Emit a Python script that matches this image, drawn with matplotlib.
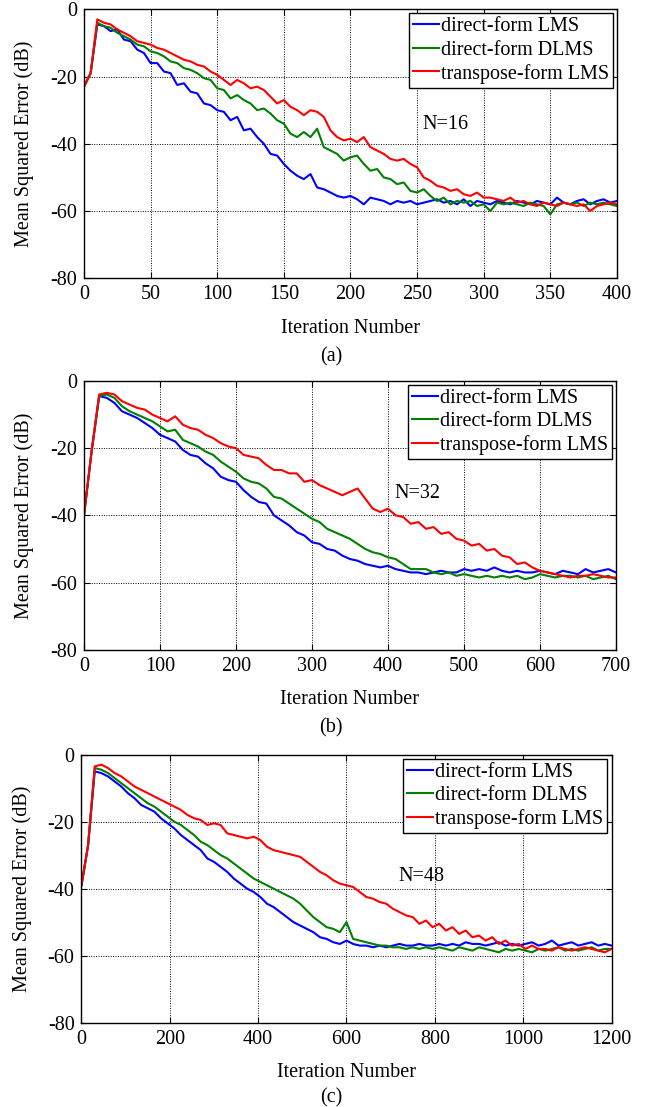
import numpy as np
import matplotlib
matplotlib.use('Agg')
import matplotlib.pyplot as plt

plt.rcParams['font.family'] = ['Liberation Serif', 'DejaVu Serif']
plt.rcParams['font.size'] = 14.5
plt.rcParams['axes.unicode_minus'] = False

labels = ['direct-form LMS', 'direct-form DLMS', 'transpose-form LMS']
colors = ['#0000ff', '#008000', '#ff0000']

# (a) N=16, one value every 5 iterations
a_lms = [-23, -19, -4.5, -5, -6.5, -6, -9, -9.5, -12, -13,
         -16, -16, -18.5, -19, -22.5, -22, -24.5, -25, -28, -28.5,
         -30, -30.5, -33, -32, -36, -35.5, -38, -40, -43, -43.5,
         -46, -48, -49.5, -50.5, -49, -53, -53.5, -54.5, -55.5, -56,
         -55.5, -56.5, -58, -56, -56.5, -57, -58, -57, -57.5, -57,
         -58, -57.5, -57, -56.5, -57.5, -57, -58, -56.5, -58.5, -57,
         -57.5, -58, -57, -57.5, -58, -57, -57.5, -58, -57, -57.5,
         -58, -56, -57.5, -58, -57, -56.5, -58, -57, -56.5, -57.5,
         -57]
a_dlms = [-23, -19, -4, -5, -5.5, -7, -8, -9, -10.5, -11,
          -12.5, -13, -14, -15.5, -16, -17.5, -18, -19, -20.5, -21,
          -23.5, -24, -26.5, -25.5, -27, -28, -30, -29.5, -31, -33,
          -34, -37, -38, -36.5, -38, -35.5, -41, -42, -43, -45,
          -44, -43.5, -46, -48, -47.5, -50, -50.5, -52, -51.5, -54,
          -54.5, -53.5, -55.5, -57, -56, -58, -57, -57.5, -57, -58.5,
          -58, -60, -57.5, -58, -57.5, -58, -58.5, -57.5, -58, -58.5,
          -61, -58, -57.5, -58, -57.5, -58.5, -57.5, -58, -57.5, -58,
          -58.5]
a_tlms = [-23, -19, -3, -4, -4.5, -6, -7, -8, -9.5, -10,
          -10.5, -11.5, -12, -13, -14, -15, -15.5, -16.5, -17, -18.5,
          -19.5, -21, -22.5, -21, -22, -23.5, -23, -24, -26, -28,
          -27, -29, -30, -31.5, -30, -30.5, -32, -36, -38, -39,
          -38.5, -39.5, -38, -41, -42, -43, -44.5, -45, -44.5, -46,
          -47, -50, -51, -52.5, -53, -54, -53.5, -55, -55.5, -54.5,
          -56, -56, -56.5, -57, -56, -57.5, -57, -58, -58.5, -57.5,
          -58, -58.5, -57.5, -58, -58.5, -58, -60, -58.5, -58, -57.5,
          -58]

# (b) N=32, one value every 10 iterations
b_lms = [-40, -21, -4.5, -5, -6.5, -9, -10, -11, -12.5, -14,
         -16, -17, -18, -20.5, -22, -22.5, -24.5, -26, -28.5, -29.5,
         -30, -32.5, -34.5, -36, -36.5, -40, -41.5, -43, -45, -46,
         -48, -48.5, -50, -50.5, -52, -53, -53.5, -54.5, -55, -55.5,
         -55, -56, -56.5, -57, -57, -57.5, -57, -56.5, -57, -57,
         -56, -56.5, -56, -56.5, -55.5, -56.5, -57, -56.5, -57, -57,
         -56.5, -57, -57.5, -56.5, -57, -57.5, -56, -57, -56.5, -56,
         -57]
b_dlms = [-40, -21, -4.5, -4, -5, -7.5, -9, -10, -11, -12,
          -13.5, -15, -14.5, -17.5, -18.5, -19.5, -21, -22, -24, -25.5,
          -27, -29, -30, -30.5, -32, -34.5, -35, -36.5, -38, -39.5,
          -41, -42, -44, -45, -46, -47, -48.5, -50, -51, -51.5,
          -52.5, -53, -54.5, -56, -56, -56, -57, -57.5, -57, -58,
          -57.5, -58, -58.5, -58, -58.5, -58, -58.5, -58, -59, -58.5,
          -57.5, -58, -58.5, -58, -58, -58.5, -58, -59, -58.5, -58,
          -59]
b_tlms = [-40, -21, -4, -3.5, -4, -6, -7, -8, -8.5, -10,
          -11, -12, -10.5, -13, -14, -14.5, -16, -17, -18.5, -19.5,
          -20, -22, -22.5, -23, -25, -26.5, -26.5, -27.5, -27.5, -30,
          -29.5, -31, -32, -33, -34, -33, -32, -35, -38, -39,
          -38, -40, -40.5, -42.5, -42, -44, -43.5, -45.5, -45, -47,
          -47.5, -49, -48.5, -50.5, -50, -52, -52.5, -54.5, -54, -55.5,
          -56.5, -57, -57.5, -58, -58.5, -58, -58, -57.5, -58, -58.5,
          -58.5]

# (c) N=48, one value every 15 iterations
c_lms = [-39, -27, -5, -5.5, -6.5, -8, -9.5, -11.5, -13, -15,
         -16, -17, -19, -20.5, -22, -24, -25.5, -27, -28.5, -31,
         -32, -33.5, -35, -37, -38.5, -40, -41, -42.5, -44.5, -45.5,
         -47, -48.5, -50, -51, -52, -53, -54.5, -55, -56, -56.5,
         -55.5, -56.5, -57, -57, -57.5, -57, -57.5, -57, -56.5, -57,
         -57, -56.5, -57, -57, -56.5, -57, -56.5, -57, -56, -56.5,
         -56.5, -57, -56.5, -56, -57, -56.5, -57, -56.5, -56, -57,
         -56.5, -55.5, -57, -56.5, -56, -57, -56.5, -56, -57, -56.5,
         -57]
c_dlms = [-39, -27, -4, -4.5, -5.5, -7, -8.5, -10, -11.5, -13,
          -14.5, -15.5, -17, -18.5, -20, -21, -22.5, -24, -26, -27,
          -28.5, -30, -31, -32.5, -34, -35.5, -37, -38, -39, -40,
          -41, -42, -43, -44.5, -46.5, -48.5, -50, -51.5, -52, -53,
          -50, -55, -55.5, -56, -56.5, -57, -57, -57.5, -57.5, -58,
          -57.5, -58, -57.5, -58, -57.5, -58, -58.5, -57.5, -58, -58.5,
          -57.5, -58, -58.5, -59, -58, -58.5, -58, -58.5, -59, -58,
          -58.5, -58, -57.5, -58.5, -58, -58.5, -58, -57.5, -58.5, -58,
          -58]
c_tlms = [-39, -27, -3.5, -3, -4, -5.5, -6.5, -8, -9.5, -10.5,
          -11.5, -12.5, -13.5, -14.5, -15.5, -16.5, -18, -19, -19.5, -21,
          -20.5, -21, -23.5, -24, -24.5, -25, -24.5, -25.5, -27.5, -28.5,
          -29, -29.5, -30, -30.5, -32, -33.5, -35, -36, -37.5, -38.5,
          -39, -39.5, -41, -42.5, -43, -44, -44.5, -46, -47, -48,
          -48.5, -50.5, -49.5, -51.5, -50.5, -52.5, -51.5, -53.5, -52.5, -54.5,
          -54, -55.5, -54.5, -56.5, -55.5, -57, -56.5, -58, -57, -58,
          -58, -58.5, -57.5, -58, -58.5, -58, -57.5, -58, -58.5, -59,
          -58]

steps = [5, 10, 15]
xmax = [400, 700, 1200]
xtick_step = [50, 100, 200]
curves = [[a_lms, a_dlms, a_tlms], [b_lms, b_dlms, b_tlms], [c_lms, c_dlms, c_tlms]]
n_text = ['N=16', 'N=32', 'N=48']
n_pos = [(254, -34.4), (409, -33.6), (717, -36.4)]
captions = ['(a)', '(b)', '(c)']

fig = plt.figure(figsize=(6.55, 11.07), dpi=100)
rects = [[0.1282, 0.7486, 0.8137, 0.2430],
         [0.1282, 0.4131, 0.8122, 0.2427],
         [0.1244, 0.0762, 0.8092, 0.2421]]
cap_y = [1 - 357 / 1107, 1 - 728 / 1107, 1 - 1098 / 1107]

for i in range(3):
    ax = fig.add_axes(rects[i])
    for y, lab, col in zip(curves[i], labels, colors):
        x = steps[i] * np.arange(len(y))
        ax.plot(x, y, color=col, lw=1.5, label=lab)
    ax.set_xlim(0, xmax[i])
    ax.set_ylim(-80, 0)
    ax.set_xticks(np.arange(0, xmax[i] + 1, xtick_step[i]))
    ax.set_yticks([-80, -60, -40, -20, 0])
    ax.grid(True, color='k', linestyle=(0, (1, 1.5)), linewidth=0.7)
    ax.tick_params(direction='in', top=True, right=True, length=4, pad=5)
    for s in ax.spines.values():
        s.set_linewidth(1.0)
    ax.set_xlabel('Iteration Number', va='center')
    ax.xaxis.set_label_coords(0.5, -50 / 269)
    ax.set_ylabel('Mean Squared Error (dB)', va='center')
    ax.yaxis.set_label_coords(-60 / 533, 0.5)
    ax.text(n_pos[i][0], n_pos[i][1], n_text[i], va='center', ha='left')
    leg = ax.legend(loc='upper right', fancybox=False, framealpha=1, edgecolor='k',
                    borderaxespad=0.2, borderpad=0.2, labelspacing=0.2,
                    handlelength=1.3, handletextpad=0.1)
    leg.get_frame().set_linewidth(1.0)
    fig.text(0.505, cap_y[i], captions[i], ha='center', va='center')

fig.savefig('out.png', dpi=100)
